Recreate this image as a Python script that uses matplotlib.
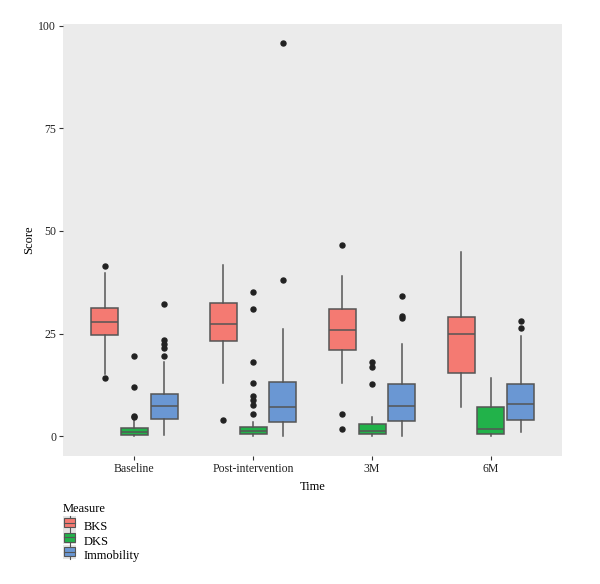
import numpy as np
import matplotlib.pyplot as plt
from matplotlib.patches import Rectangle
from matplotlib.lines import Line2D
from matplotlib.legend_handler import HandlerBase

plt.rcParams['font.family'] = ['Liberation Serif', 'DejaVu Serif']

# data
times = ["Baseline", "Post-intervention", "3M", "6M"]
measures = ["BKS", "DKS", "Immobility"]
colors = ["#F47A72", "#22B24A", "#6A97D3"]

# per measure: one value per time point
bks_q1 = [24.6, 23.3, 21.1, 15.4]
bks_med = [27.8, 27.4, 25.8, 25.0]
bks_q3 = [31.2, 32.4, 30.9, 29.1]
bks_lo = [15.2, 12.9, 12.9, 7.1]
bks_hi = [39.8, 41.8, 39.1, 45.0]
bks_out = [[41.4, 14.1], [3.9], [46.7, 5.4, 1.8], []]

dks_q1 = [0.3, 0.5, 0.6, 0.6]
dks_med = [1.1, 1.3, 1.4, 1.8]
dks_q3 = [2.0, 2.4, 3.0, 7.1]
dks_lo = [0.0, 0.0, 0.0, 0.0]
dks_hi = [4.2, 3.4, 4.7, 14.2]
dks_out = [[4.6, 5.0, 12.1, 19.6],
           [5.4, 7.7, 8.9, 9.8, 12.9, 18.1, 30.9, 35.2],
           [12.8, 17.0, 18.2], []]

imm_q1 = [4.2, 3.6, 3.8, 4.1]
imm_med = [7.4, 7.2, 7.4, 7.9]
imm_q3 = [10.2, 13.2, 12.8, 12.8]
imm_lo = [0.3, 0.0, 0.0, 1.0]
imm_hi = [18.2, 26.2, 22.5, 24.4]
imm_out = [[19.6, 21.6, 22.5, 23.5, 32.3], [38.0, 95.7],
           [28.9, 29.3, 34.2], [26.5, 28.2]]

series = [
    (bks_q1, bks_med, bks_q3, bks_lo, bks_hi, bks_out),
    (dks_q1, dks_med, dks_q3, dks_lo, dks_hi, dks_out),
    (imm_q1, imm_med, imm_q3, imm_lo, imm_hi, imm_out),
]

fig = plt.figure(figsize=(6, 5.84), dpi=100)
ax = fig.add_axes([0.105, 0.219, 0.832, 0.740])
ax.set_facecolor("#EBEBEB")

edge = "#555555"
offsets = [-0.25, 0.0, 0.25]
for k, (q1, med, q3, lo, hi, out) in enumerate(series):
    stats = []
    for i in range(len(times)):
        stats.append(dict(q1=q1[i], med=med[i], q3=q3[i], whislo=lo[i],
                          whishi=hi[i], fliers=out[i]))
    pos = [i + 1 + offsets[k] for i in range(len(times))]
    ax.bxp(stats, positions=pos, widths=0.227, patch_artist=True,
           showcaps=False, manage_ticks=False,
           boxprops=dict(facecolor=colors[k], edgecolor=edge, linewidth=1.1),
           medianprops=dict(color=edge, linewidth=1.1),
           whiskerprops=dict(color=edge, linewidth=1.1),
           flierprops=dict(marker='o', markersize=3.6, markerfacecolor="#222222",
                           markeredgecolor="#222222"))

ax.set_xlim(0.4, 4.6)
ax.set_ylim(-4.8, 100.4)
ax.set_xticks(range(1, len(times) + 1))
ax.set_xticklabels(times)
ax.set_yticks([0, 25, 50, 75, 100])
for s in ax.spines.values():
    s.set_visible(False)
ax.tick_params(length=3, width=0.8, color="#333333", labelsize=8.5,
               labelcolor="#222222", pad=2)
ax.set_xlabel("Time", fontsize=9, labelpad=4)
ax.set_ylabel("Score", fontsize=9, labelpad=2)


class BoxKey(HandlerBase):
    # small boxplot glyph like the ggplot legend key
    def create_artists(self, legend, orig, xd, yd, w, h, fontsize, trans):
        bg = Rectangle((xd, yd - 0.08 * h), w, 1.16 * h, facecolor="#E4E4E4",
                       edgecolor="none", transform=trans)
        bx, bw = xd + 0.1 * w, 0.8 * w
        by, bh = yd + 0.12 * h, 0.76 * h
        box = Rectangle((bx, by), bw, bh, facecolor=orig.get_facecolor(),
                        edgecolor=edge, linewidth=0.8, transform=trans)
        mid = Line2D([bx, bx + bw], [yd + h / 2, yd + h / 2],
                     color=edge, linewidth=0.8, transform=trans)
        wt = Line2D([xd + w / 2, xd + w / 2], [by + bh, yd + 1.08 * h],
                    color=edge, linewidth=0.8, transform=trans)
        wb = Line2D([xd + w / 2, xd + w / 2], [yd - 0.08 * h, by],
                    color=edge, linewidth=0.8, transform=trans)
        return [bg, box, mid, wt, wb]


handles = [Rectangle((0, 0), 1, 1, facecolor=c) for c in colors]
leg = fig.legend(handles, measures, title="Measure", loc="upper left",
                 bbox_to_anchor=(57 / 600, 1 - 497 / 584), frameon=False,
                 borderpad=0.45, borderaxespad=0,
                 fontsize=9, title_fontsize=9, handlelength=1.1,
                 handleheight=1.1, handletextpad=0.6, labelspacing=0.1,
                 handler_map={Rectangle: BoxKey()})
leg._legend_box.align = "left"
leg._legend_box.sep = 4

fig.savefig("out.png", dpi=100)
